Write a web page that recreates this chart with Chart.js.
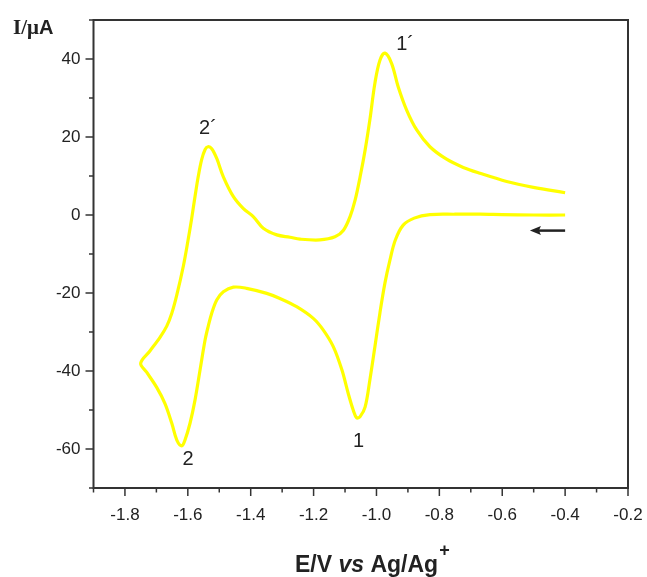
<!DOCTYPE html>
<html>
<head>
<meta charset="utf-8">
<script src="https://cdn.jsdelivr.net/npm/chart.js@4/dist/chart.umd.min.js"></script>
<style>
  html, body { margin: 0; padding: 0; background: #ffffff; }
  #wrap { width: 647px; height: 577px; position: relative; }
</style>
</head>
<body>
<div id="wrap"><canvas id="c" width="647" height="577"></canvas></div>
<script>
// ---- Data ----
// Cathodic scan: from -0.40 V towards -1.75 V
const potentialForward = [-0.40, -0.50, -0.60, -0.67, -0.75, -0.83, -0.88, -0.915, -0.94, -0.957, -0.973, -0.989, -1.005, -1.021, -1.036, -1.052, -1.063, -1.074, -1.090, -1.110, -1.137, -1.169, -1.201, -1.254, -1.307, -1.349, -1.413, -1.455, -1.487, -1.508, -1.524, -1.535, -1.545, -1.561, -1.577, -1.593, -1.609, -1.619, -1.635, -1.651, -1.673, -1.699, -1.731, -1.750];
const currentForward   = [0.0, 0.0, 0.1, 0.2, 0.2, 0.1, -0.8, -2.6, -6.4, -11.5, -17.4, -25.1, -33.8, -42.3, -49.2, -51.7, -52.0, -50.0, -45.7, -39.7, -33.8, -29.5, -26.5, -23.5, -21.4, -20.1, -18.8, -18.5, -19.7, -21.8, -25.2, -28.5, -32.0, -39.7, -47.4, -53.4, -57.7, -59.2, -57.7, -53.4, -48.3, -44.2, -40.3, -38.0];
// Anodic (return) scan: from -1.75 V back to -0.40 V
const potentialReverse = [-1.720, -1.688, -1.667, -1.651, -1.635, -1.614, -1.600, -1.588, -1.577, -1.567, -1.556, -1.545, -1.536, -1.524, -1.508, -1.487, -1.455, -1.424, -1.392, -1.360, -1.317, -1.275, -1.243, -1.180, -1.132, -1.105, -1.084, -1.068, -1.052, -1.036, -1.021, -1.005, -0.989, -0.973, -0.952, -0.931, -0.904, -0.872, -0.830, -0.777, -0.724, -0.671, -0.586, -0.501, -0.400];
const currentReverse   = [-34.8, -31.3, -28.5, -25.2, -20.5, -13.0, -6.8, -1.0, 4.8, 9.8, 14.2, 16.8, 17.5, 17.0, 14.5, 9.8, 4.7, 1.7, -0.4, -3.4, -5.1, -5.7, -6.2, -6.4, -5.6, -3.9, -0.4, 3.8, 9.8, 16.7, 24.4, 33.8, 39.7, 41.5, 38.9, 32.9, 26.9, 21.8, 17.5, 14.3, 12.2, 10.7, 8.6, 7.1, 5.7];

const xTickLabels = ['-1.8', '-1.6', '-1.4', '-1.2', '-1.0', '-0.8', '-0.6', '-0.4', '-0.2'];
const yTickLabels = ['-60', '-40', '-20', '0', '20', '40'];

const peakLabels = ['1´', '2´', '1', '2'];
const peakLabelE = [-0.909, -1.536, -1.057, -1.599];
const peakLabelI = [43.8, 22.3, -58.0, -62.8];

const scanArrowE = [-0.40, -0.512];
const scanArrowI = -4.0;

// ---- Build points ----
const cvPoints = [];
potentialForward.forEach((e, i) => cvPoints.push({ x: e, y: currentForward[i] }));
potentialReverse.forEach((e, i) => cvPoints.push({ x: e, y: currentReverse[i] }));

const SANS = '"Liberation Sans", Arial, Helvetica, sans-serif';
const SERIF = '"Liberation Serif", "Times New Roman", serif';
const TXT = '#222222';
const FRAME = '#333333';

const decorPlugin = {
  id: 'decor',
  afterDraw(chart) {
    const ctx = chart.ctx;
    const xs = chart.scales.x, ys = chart.scales.y;
    const a = chart.chartArea;
    ctx.save();
    // frame
    ctx.strokeStyle = FRAME;
    ctx.lineWidth = 2;
    ctx.strokeRect(a.left, a.top, a.right - a.left, a.bottom - a.top);
    // x ticks
    ctx.lineWidth = 1.5;
    for (let k = -19; k <= -2; k++) {
      const v = k / 10;
      const px = xs.getPixelForValue(v);
      const major = xTickLabels.includes(v.toFixed(1));
      ctx.beginPath();
      ctx.moveTo(px, a.bottom);
      ctx.lineTo(px, a.bottom + (major ? 8 : 4.5));
      ctx.stroke();
    }
    // y ticks
    for (let v = -70; v <= 50; v += 10) {
      const py = ys.getPixelForValue(v);
      const major = yTickLabels.includes(String(v));
      ctx.beginPath();
      ctx.moveTo(a.left, py);
      ctx.lineTo(a.left - (major ? 8 : 4.5), py);
      ctx.stroke();
    }
    // peak labels
    ctx.fillStyle = TXT;
    ctx.font = '20px ' + SANS;
    ctx.textAlign = 'center';
    ctx.textBaseline = 'middle';
    peakLabels.forEach((t, i) => {
      ctx.fillText(t, xs.getPixelForValue(peakLabelE[i]), ys.getPixelForValue(peakLabelI[i]));
    });
    // scan direction arrow
    const ax0 = xs.getPixelForValue(scanArrowE[0]);
    const ax1 = xs.getPixelForValue(scanArrowE[1]);
    const ay = ys.getPixelForValue(scanArrowI);
    ctx.strokeStyle = '#222';
    ctx.lineWidth = 2.5;
    ctx.beginPath();
    ctx.moveTo(ax0, ay);
    ctx.lineTo(ax1 + 8, ay);
    ctx.stroke();
    ctx.fillStyle = '#222';
    ctx.beginPath();
    ctx.moveTo(ax1, ay);
    ctx.lineTo(ax1 + 11, ay - 4.5);
    ctx.lineTo(ax1 + 9, ay);
    ctx.lineTo(ax1 + 11, ay + 4.5);
    ctx.closePath();
    ctx.fill();
    // y axis title  I/μA
    ctx.textAlign = 'left';
    ctx.textBaseline = 'alphabetic';
    ctx.fillStyle = TXT;
    ctx.font = 'bold 21px ' + SERIF;
    let tx = 13;
    ctx.fillText('I/μ', tx, 34);
    tx += ctx.measureText('I/μ').width;
    ctx.font = 'bold 20px ' + SANS;
    ctx.fillText('A', tx, 34);
    // x axis title  E/V vs Ag/Ag+
    const parts = [
      { t: 'E/V ', f: 'bold 23px ' + SANS },
      { t: 'vs', f: 'italic bold 23px ' + SANS },
      { t: ' Ag/Ag', f: 'bold 23px ' + SANS }
    ];
    let sx = 295;
    const base = 572;
    parts.forEach(p => { ctx.font = p.f; ctx.fillText(p.t, sx, base); sx += ctx.measureText(p.t).width; });
    ctx.font = 'bold 18px ' + SANS;
    ctx.fillText('+', sx + 1, base - 16);
    ctx.restore();
  }
};

new Chart(document.getElementById('c'), {
  type: 'scatter',
  data: {
    datasets: [{
      data: cvPoints,
      showLine: true,
      borderColor: '#ffff00',
      borderWidth: 3.2,
      pointRadius: 0,
      tension: 0.35,
      fill: false
    }]
  },
  plugins: [decorPlugin],
  options: {
    responsive: false,
    animation: false,
    events: [],
    layout: { padding: { top: 20, right: 19, left: 0, bottom: 0 } },
    plugins: { legend: { display: false }, tooltip: { enabled: false } },
    scales: {
      x: {
        type: 'linear',
        min: -1.9,
        max: -0.2,
        grid: { display: false, drawTicks: false },
        border: { display: false },
        afterFit: (s) => { s.height = 89; s.paddingLeft = 0; s.paddingRight = 0; },
        ticks: {
          stepSize: 0.1,
          autoSkip: false,
          maxRotation: 0,
          padding: 17,
          color: TXT,
          font: { family: SANS, size: 17 },
          callback: (v) => {
            const s = Number(v).toFixed(1);
            return xTickLabels.includes(s) ? s : '';
          }
        }
      },
      y: {
        type: 'linear',
        min: -70,
        max: 50,
        grid: { display: false, drawTicks: false },
        border: { display: false },
        afterFit: (s) => { s.width = 93.5; s.paddingTop = 0; s.paddingBottom = 0; },
        ticks: {
          stepSize: 10,
          autoSkip: false,
          padding: 13,
          color: TXT,
          font: { family: SANS, size: 17 },
          callback: (v) => {
            const s = String(Math.round(v));
            return yTickLabels.includes(s) ? s : '';
          }
        }
      }
    }
  }
});
</script>
</body>
</html>
